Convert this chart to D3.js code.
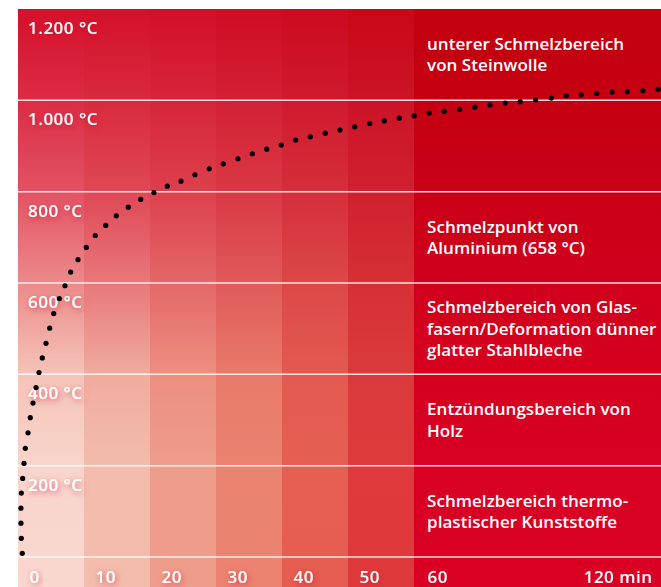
<!DOCTYPE html>
<html><head><meta charset="utf-8">
<script src="https://cdn.jsdelivr.net/npm/d3@7"></script>
<style>
html,body{margin:0;padding:0;background:#fff;}
svg{display:block;}
text{font-family:"Open Sans",Lato,sans-serif;font-weight:600;fill:#fff;}
</style></head><body>
<script>
// ---- data ----
const timeBands = [0, 10, 20, 30, 40, 50, 60, 120];          // minutes (column edges)
const xTicks = [0, 10, 20, 30, 40, 50, 60, 120];
const tempTicks = [200, 400, 600, 800, 1000, 1200];             // °C
const tempLabels = ["200 °C", "400 °C", "600 °C", "800 °C", "1.000 °C", "1.200 °C"];
const fireTime = [0.65,0.5,0.45,0.45,0.5,0.71,0.91,1.11,1.52,1.86,2.27,2.73,3.18,3.68,4.24,4.8,5.41,6.26,7.12,7.98,9.09,10.35,11.71,13.29,14.89,16.71,18.59,20.6,22.62,24.7,26.8,28.98,31.1,33.33,35.5,37.68,39.89,42.08,44.29,46.56,48.79,51.02,53.29,55.5,57.77,60.05,63.7,67.36,71.1,74.74,78.46,82.17,85.8,89.56,93.35,96.99,100.6,104.4,108.1,111.8,115.6,119.3];
const fireTemp = [8,41,74,107,140,172,205,238,272,305,337,371,404,436,468,501,533,566,594,624,651,678,704,726,747,766,783,798,812,823,837,850,861,872,883,893,902,913,920,928,935,942,949,955,961,966,972,976,980,985,990,994,997,1001,1005,1010,1012,1015,1018,1019,1021,1024];
const annotationBands = [1200, 800, 600, 400, 200];   // band top temperature
const annotationLines = [
  ["unterer Schmelzbereich", "von Steinwolle"],
  ["Schmelzpunkt von", "Aluminium (658 °C)"],
  ["Schmelzbereich von Glas-", "fasern/Deformation dünner", "glatter Stahlbleche"],
  ["Entzündungsbereich von", "Holz"],
  ["Schmelzbereich thermo-", "plastischer Kunststoffe"]
];

// ---- styles ----
const gradStopTemps = [1200, 1000, 800, 600, 400, 200, 0, -50];
const columnColors = [
  ["#d5102c","#dc2c44","#e25264","#eb8a8a","#f5c4b8","#f8d5cc","#f9d7ce","#f9d7ce"],
  ["#d4102a","#d92a3e","#df4856","#e8787a","#f0ac9e","#f3bcad","#f3bcad","#f3bcad"],
  ["#d20f28","#d6253a","#dc404c","#e46868","#ec8f80","#ef9d8b","#ef9d8b","#ef9d8b"],
  ["#cf0c24","#d32034","#d93844","#e05a5a","#e97a6a","#ea8270","#eb8370","#eb8370"],
  ["#cc0a20","#cf1a2e","#d52e3a","#dc4848","#e35a50","#e55f52","#e55e51","#e55e51"],
  ["#c90818","#cb1426","#d0202e","#d53036","#db3a3c","#de3b3c","#df3a3b","#df3a3b"],
  ["#c2000f","#c50012","#ca0017","#d0001c","#d5001f","#d80023","#d90024","#d90024"]
];

const W = 661, H = 587;
const mLeft = 18, mTop = 9, base0 = 557;
const x = d3.scaleLinear().domain([0, 60, 120]).range([mLeft, 414, W]);
const y = d3.scaleLinear().domain([0, 1200]).range([base0, mTop]);

const svg = d3.select("body").append("svg").attr("width", W).attr("height", H);
const defs = svg.append("defs");

columnColors.forEach((cols, i) => {
  const g = defs.append("linearGradient").attr("id", "col" + i)
    .attr("gradientUnits", "userSpaceOnUse")
    .attr("x1", 0).attr("x2", 0).attr("y1", mTop).attr("y2", H);
  gradStopTemps.forEach((t, j) => {
    const yy = Math.min(y(t), H);
    g.append("stop").attr("offset", (yy - mTop) / (H - mTop)).attr("stop-color", cols[j]);
  });
});

const f = defs.append("filter").attr("id", "glow").attr("x", "-30%").attr("y", "-60%").attr("width", "160%").attr("height", "220%");
f.append("feDropShadow").attr("dx", 1.5).attr("dy", 2).attr("stdDeviation", 3)
  .attr("flood-color", "#d01830").attr("flood-opacity", 0.6);

// columns
svg.append("g").selectAll("rect").data(d3.range(timeBands.length - 1)).join("rect")
  .attr("x", i => x(timeBands[i]))
  .attr("y", mTop)
  .attr("width", i => x(timeBands[i + 1]) - x(timeBands[i]))
  .attr("height", H - mTop)
  .attr("fill", i => `url(#col${i})`);

// gridlines
svg.append("g").selectAll("line").data([0].concat(tempTicks.slice(0, -1))).join("line")
  .attr("x1", mLeft).attr("x2", W)
  .attr("y1", d => y(d)).attr("y2", d => y(d))
  .attr("stroke", "#fff").attr("stroke-opacity", 0.85).attr("stroke-width", 1.5);

// y labels
svg.append("g").selectAll("text").data(tempTicks).join("text")
  .attr("x", mLeft + 10)
  .attr("y", d => y(d) + 25)
  .attr("font-size", 17)
  .attr("letter-spacing", 0.5)
  .attr("filter", "url(#glow)")
  .text((d, i) => tempLabels[i]);

// annotations
const bandH = y(0) - y(200);
annotationBands.forEach((t, i) => {
  const lines = annotationLines[i];
  const cy = y(t) + bandH / 2;
  const lh = 21.3;
  const first = cy - (lines.length - 1) * lh / 2 + 6;
  const txt = svg.append("text").attr("x", x(60) + 13).attr("font-size", 17).attr("letter-spacing", 0.05);
  lines.forEach((l, k) => txt.append("tspan").attr("x", x(60) + 13).attr("y", first + k * lh).text(l));
});

// x axis
const xa = svg.append("g").attr("transform", `translate(0,${base0})`)
  .call(d3.axisBottom(x).tickValues(xTicks).tickSize(0).tickPadding(0)
    .tickFormat(d => d === 120 ? "120 min" : String(d)));
xa.select(".domain").remove();
xa.selectAll("text")
  .attr("font-size", 17)
  .attr("letter-spacing", 0.5)
  .attr("font-family", "'Open Sans', Lato, sans-serif")
  .attr("fill", "#fff")
  .attr("dy", null)
  .attr("y", 26)
  .attr("filter", "url(#glow)")
  .attr("text-anchor", d => d === 120 ? "end" : "start")
  .attr("dx", d => d === 120 ? -9 : (d === 60 ? 13 : 11));

// fire curve (dots)
svg.append("g").selectAll("circle").data(fireTime.map((t, i) => [t, fireTemp[i]])).join("circle")
  .attr("cx", d => x(d[0])).attr("cy", d => y(d[1]))
  .attr("r", 2.6).attr("fill", "#000");
</script>
</body></html>
